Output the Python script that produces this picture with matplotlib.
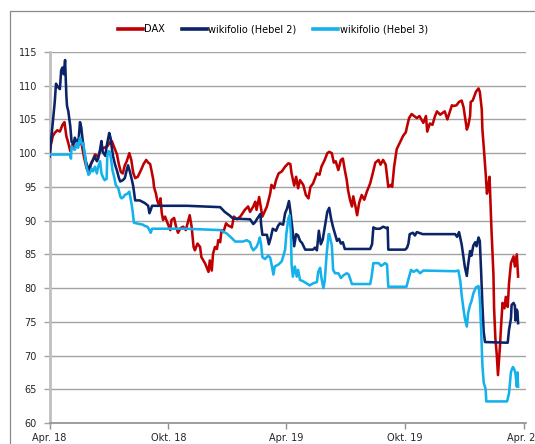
import matplotlib
matplotlib.use("Agg")
import matplotlib.pyplot as plt
import pandas as pd
from matplotlib.patches import Rectangle
from matplotlib.lines import Line2D

# ---- data (days since start date, index values) ----
start_date = "2018-04-26"

dax_day = [0,2,5,8,12,16,20,23,26,29,32,35,39,44,49,53,57,61,64,67,70,75,79,84,89,93,96,100,104,107,110,113,116,119,123,126,129,132,136,141,145,149,152,155,157,160,161,164,166,169,171,173,175,178,182,186,188,192,195,198,202,206,210,214,216,219,222,224,228,232,234,237,240,243,245,247,250,252,255,258,260,263,265,268,272,275,281,284,289,294,301,306,309,314,317,319,323,325,328,335,340,342,346,349,353,358,363,368,371,373,377,380,383,386,391,395,399,402,406,412,416,419,424,428,431,435,438,441,445,449,452,455,458,460,463,466,468,471,474,477,481,485,489,494,498,502,507,510,514,518,522,526,528,531,535,540,545,549,551,554,558,562,566,570,573,576,580,582,586,590,594,597,602,606,609,613,617,620,623,627,631,635,638,640,643,645,648,649,652,654,657,661,663,666,667,669,672,674,676,678,679,681,684,685,687,689,691,693,694,696,698,701,703,706,708,711,715,717,720,722]
dax_val = [99.6,101.2,102.5,103,103.4,103.2,104.2,104.6,102.5,101.5,100.3,101.2,100.8,101.2,101.6,99.5,97.8,97,98.5,99,99.8,99.5,100.5,100.8,101,101.6,101.8,100.8,99.8,98.3,97.2,97,98.2,98.8,100,99,97.1,96.3,96.5,97.5,98.4,99,98.6,98.4,97.5,96,95,94,93,92.2,93.3,91.1,90.1,90.6,89.6,88.6,90.1,90.4,89.1,88.2,88.9,89.1,88.6,90.1,90.8,89.1,86.1,85.6,86.6,86.1,84.6,84.1,83.6,82.9,82.4,84.1,82.6,85.1,86.1,85.8,87.1,86.8,88.6,88.3,89.6,89.3,89,90.6,90.2,90.6,91.6,92.1,91.3,92.1,92.8,91.6,93.5,92.3,90.6,92.1,94,95.3,94.8,96,97,97.3,98,98.5,98.4,97,95.2,96.5,94.8,96,95.3,93.8,93.3,95,95.5,97,96.8,98,99,100,100.2,100,98.6,98.8,97.5,99,99.2,97.5,96,94.5,93.1,92.1,93.6,92.3,90.8,92.6,93.8,93.1,94.3,95.5,97,98.6,99,98.3,99,98.3,95,95.3,95,98,100.6,101.6,102.6,103.1,104,105.2,105.8,105.5,105.2,105.5,105,104.5,105.5,103.2,104.4,104.2,105.5,106.2,105.7,106,106.2,105,106.2,107.1,107,107.1,107.6,107.8,106.8,105.5,103.5,104,105.5,107.6,107.8,108.3,109.1,109.6,109.1,106.5,103.5,101,97,94,95,96.5,94,88.6,82,77,72.5,70.3,67.1,69.8,71.3,74.8,77.8,77,78.7,77.2,80.7,83.7,84.7,83.2,85,81.7]

h2_day = [0,2,5,8,10,13,16,18,20,22,24,26,27,29,32,34,37,39,42,45,47,49,51,53,56,60,62,65,68,70,73,75,78,80,82,86,88,91,92,94,96,98,101,104,107,109,113,116,119,121,124,127,129,132,139,147,152,154,156,158,212,263,266,270,277,283,309,314,317,320,325,326,328,335,338,341,344,349,352,355,360,363,366,369,371,374,377,380,383,386,389,394,406,409,412,415,418,421,425,428,431,434,437,440,443,446,449,452,455,494,497,499,503,509,514,519,521,522,548,551,553,555,560,563,566,575,625,628,631,635,638,640,643,645,648,650,653,656,658,661,663,665,667,669,671,706,708,711,712,715,717,718,720,721,722]
h2_val = [99.5,101.5,104.5,107.5,110.3,109.8,109.5,112.3,112.7,111.7,113.8,108.5,107,106.2,104,101.7,101.3,102.3,101.5,102.2,104.6,103.8,102,100.5,98.8,97.6,98,98.6,99.2,99.5,98.8,99.2,100.6,101.8,100.2,99.6,101,102.5,103,102.3,100.8,99.5,98.3,97.4,96.3,95.8,96,96.3,97.5,98.2,97.2,96,95.1,93,93,92.6,92.2,91.1,91.6,92.2,92.2,92.0,91.7,91.3,90.8,90.3,90.2,89.5,89.8,90.3,91,89.5,87.9,87.9,86.5,87.5,88.8,88.5,89.2,89.6,89.4,91.1,91.8,92.9,91.5,89,86.2,88,87.8,87,86.7,85.7,85.7,86,85.6,88.5,86.5,87.2,89.5,91.3,91.9,90.2,89,88,87,87.3,86.6,86.8,85.8,85.8,86.5,89,88.8,88.8,89.1,88.9,89,85.7,85.7,86,86.6,88,88.2,87.8,88.3,88,88,87.6,88.3,86.5,84.5,83.1,81.8,83.5,85.5,84.8,86.3,86.8,86.2,87.5,87,82.5,77.5,73.5,72,71.9,73.8,75.5,77.5,77.8,77.4,75.2,76.8,76.5,74.8]

h3_day = [0,32,33,34,37,39,42,44,47,50,52,55,57,60,62,65,67,70,73,75,78,80,83,85,88,89,91,93,95,97,100,102,106,109,111,114,116,120,123,126,128,130,134,139,144,147,151,154,156,158,209,263,273,281,286,298,304,309,311,314,319,322,324,326,328,332,337,340,342,345,347,353,358,363,365,368,370,372,373,375,378,381,383,386,391,396,401,406,412,414,417,419,422,424,427,430,431,435,437,440,445,449,453,458,461,466,494,496,499,507,511,517,520,522,550,553,557,561,566,571,576,625,630,633,635,638,640,643,645,648,650,653,657,661,663,665,667,669,672,673,705,708,711,714,716,718,720,721,722]
h3_val = [99.8,99.8,99.2,101,100.6,100.5,101.5,100.8,102.3,101.3,101.5,99.3,98,96.8,97,97.7,97.3,98,97,98,98.8,97,96.3,96,96.2,99.5,100.3,100.2,99,97.5,96.3,95.3,94.8,93.6,93.3,93.5,93.8,94,94.3,92.7,91.5,89.7,89.6,89.5,89.4,89.2,89.1,88.6,88.2,88.8,88.8,88.6,88.1,87.4,86.9,86.9,87.1,86.8,86.1,85.6,86.1,86.8,87.5,86.5,84.6,84.3,84.8,84.5,83.6,82,83.2,83.5,84,85.7,88.1,90.3,90.8,88,83.5,81.7,83.2,81.7,82.7,81.2,81,80.7,80.4,80.7,80.9,82.4,83,81.5,80,81,85,88,88,86.3,82.7,82.2,82.2,81.5,81.9,82.2,82,80.6,80.6,81.5,83.7,83.7,83.3,83.7,83.5,80.2,80.2,81.3,82.7,82.4,82.7,82.2,82.6,82.5,82.6,81,79,76.8,75.5,74.3,76.3,77.5,78,79.2,80.1,80.3,78.5,74,68.5,66,65,63.2,63.2,64.4,67.6,68.3,68,67.3,65.4,67.5,65.4]

series_names = ["DAX", "wikifolio (Hebel 2)", "wikifolio (Hebel 3)"]
tick_labels = ["Apr. 18", "Okt. 18", "Apr. 19", "Okt. 19", "Apr. 20"]
y_ticks = list(range(60, 116, 5))

for a, b, n in [(dax_day, dax_val, "dax"), (h2_day, h2_val, "h2"), (h3_day, h3_val, "h3")]:
    assert len(a) == len(b), (n, len(a), len(b))

t0 = pd.Timestamp(start_date)
def to_dates(days):
    return [t0 + pd.Timedelta(days=d) for d in days]

colors = ["#C00000", "#0B2468", "#14B1EC"]

fig = plt.figure(figsize=(5.35, 4.44), dpi=100)
fig.patch.set_facecolor("white")

# outer chart border (extends beyond the crop on right and bottom)
fig.add_artist(Rectangle((10 / 535, -0.2), 1.2, 0.2 + 1 - 11 / 444,
                         transform=fig.transFigure, fill=False,
                         edgecolor="#8a8a8a", linewidth=0.9))

ax = fig.add_axes([49.5 / 535, 1 - 423 / 444, 476 / 535, (423 - 52) / 444])

lw = 1.85
ax.plot(to_dates(dax_day), dax_val, color=colors[0], lw=lw, solid_joinstyle="round", zorder=3)
ax.plot(to_dates(h2_day), h2_val, color=colors[1], lw=lw, solid_joinstyle="round", zorder=4)
ax.plot(to_dates(h3_day), h3_val, color=colors[2], lw=lw, solid_joinstyle="round", zorder=5)

ax.set_ylim(60, 115)
ax.set_xlim(t0, t0 + pd.Timedelta(days=733.4))
ax.set_yticks(y_ticks)
ax.set_yticklabels([str(v) for v in y_ticks])
xt = [t0 + pd.DateOffset(months=6 * i) for i in range(len(tick_labels))]
ax.set_xticks(xt)
ax.set_xticklabels(tick_labels)

ax.grid(axis="y", color="#a3a3a3", linewidth=1.0, zorder=0)
ax.set_axisbelow(True)
for s in ["top", "right"]:
    ax.spines[s].set_visible(False)
ax.spines["left"].set_color("#c0c0c0")
ax.spines["left"].set_linewidth(2.0)
ax.spines["bottom"].set_color("#8f8f8f")
ax.spines["bottom"].set_linewidth(1.2)
ax.tick_params(axis="y", direction="out", length=4, width=1.0, color="#a3a3a3",
               labelsize=7, labelcolor="#262626", pad=5)
ax.tick_params(axis="x", direction="out", length=4, width=1.0, color="#8f8f8f",
               labelsize=7, labelcolor="#262626", pad=3)

handles = [Line2D([0], [0], color=c, lw=2.6) for c in colors]
fig.legend(handles, series_names, loc="center", bbox_to_anchor=(0.51, 1 - 29 / 444),
           ncol=3, frameon=False, fontsize=7, handlelength=2.6, handletextpad=0.15,
           columnspacing=1.7, borderaxespad=0)

fig.savefig("out.png", dpi=100)
